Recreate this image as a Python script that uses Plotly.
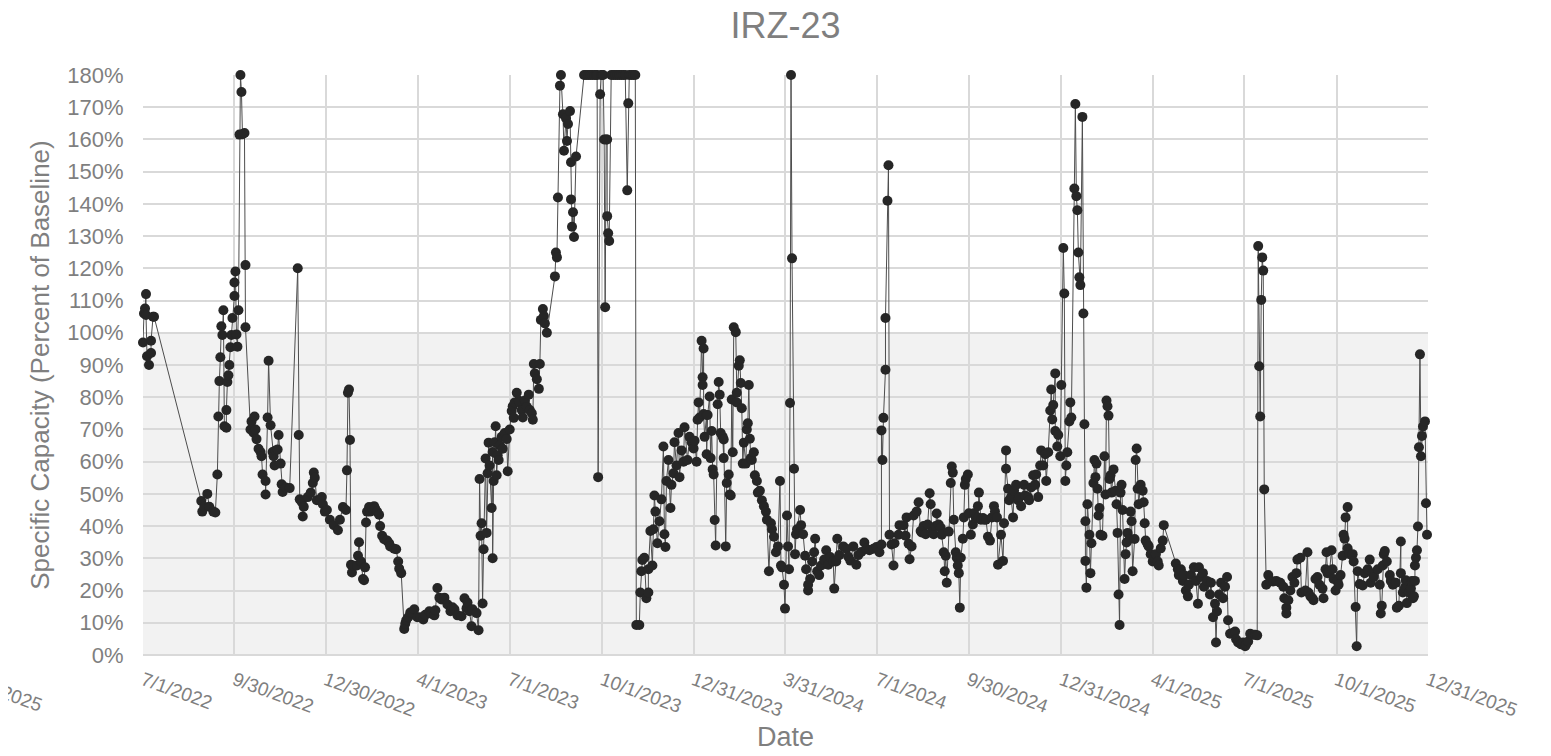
import pandas as pd
import plotly.graph_objects as go

# ---- data ----
# Measurement dates are given as days after the first reading (2022-07-01).
start_date = "2022-07-01"

days_2022 = [0, 1, 2, 3, 3, 4, 6, 8, 8, 10, 11,
             58, 59, 61, 64, 66, 70, 72, 74, 75, 76, 77, 78, 79, 80, 81, 83, 83, 84, 85, 86, 87, 88, 89, 91, 91, 92, 93, 94, 95,
             96, 97, 98, 99, 101, 102, 102, 107, 108, 110, 111, 112, 113, 115, 117, 118, 119, 122, 122, 124, 125, 127, 129, 130,
             131, 132, 134, 135, 137, 138, 139, 142, 146, 154, 155, 156, 158, 159, 160, 164, 167, 169, 170, 171, 173, 176, 178,
             179, 181, 183]
vals_2022 = [97, 106, 107.5, 112, 105.5, 92.7, 90, 93.7, 97.5, 105, 105,
             47.8, 44.5, 46, 50, 46, 44.5, 44.2, 56, 74, 85, 92.4, 102, 99.3, 107, 71, 70.5, 76, 84.7, 86.8, 90, 95.5, 99.3, 104.6, 111.4, 115.6, 119, 99.5, 95.7, 107,
             161.5, 180, 174.7, 161.6, 162, 121, 101.7, 70, 72.5, 69, 74, 70, 67, 64, 63, 61.7, 56, 54, 49.8, 73.7, 91.3, 71.3, 63, 61.7,
             58.8, 63.5, 63.8, 68.3, 59.4, 53, 50.6, 52, 51.8, 120, 68.3, 48.3, 47.5, 43, 46, 49, 50.4, 53.4, 56.6, 55, 48, 48, 49,
             46.8, 44.5, 45]

days_2023 = [186, 190, 194, 196, 199, 202, 203, 204, 205, 206, 207, 208, 209, 213, 214, 215, 217, 219, 220, 221, 222, 223, 225,
             226, 228, 230, 231, 233, 235, 236, 238, 240, 243, 245, 246, 250, 252, 254, 255, 257, 260, 261, 262, 264, 266, 270,
             273, 276, 279, 281, 285, 287, 290, 291, 293, 295, 297, 300, 303, 306, 308, 310, 313, 317, 320, 322, 323, 325, 327,
             328, 332, 334, 335, 336, 337, 338, 339, 341, 342, 343, 344, 345, 347, 348, 348, 349, 350, 351, 352, 353, 354, 355,
             357, 358, 360, 362, 363, 365, 367, 368, 369, 370, 372, 374, 375, 377, 378, 380, 382, 384, 385, 387, 388, 389, 390,
             392, 394, 395, 396, 398, 399, 400, 402, 410, 411, 412, 413, 415, 416, 418, 419, 421, 422, 423, 425, 426, 426, 427,
             428, 429, 431,
             439, 441, 443, 445, 447, 449, 451, 452, 453, 455, 456, 457, 458, 459, 460, 461, 462, 462, 463, 464, 466, 468, 470,
             472, 474, 476, 478, 480, 482, 483, 484, 486, 488, 490, 491, 494, 495, 496, 497, 499, 501, 503, 503, 505, 507, 508,
             509, 510, 512, 514, 516, 518, 519, 520, 521, 523, 525, 526, 528, 529, 531, 533, 534, 536, 538, 539, 542, 544, 546, 548]
vals_2023 = [42, 40.3, 38.7, 42, 45.9, 45, 57.3, 81.4, 82.4, 66.7, 28, 25.6, 27.8, 27.8, 30.8, 35, 29, 23.6, 23.2, 27.2, 41.1, 44.5, 45.9,
             44.5, 45.5, 46.2, 45.5, 44.5, 43.5, 40, 37, 35.9, 35.5, 34.7, 33.7, 33, 32.8, 29, 26.8, 25.4, 8.1, 9.7, 10.8, 11.7, 13.2, 14.2,
             11.7, 11.7, 11, 12.5, 13.6, 12.8, 12.3, 13.9, 20.8, 17.8, 17.2, 17.8, 15.7, 13.6, 14.8, 14.2, 12.3, 12, 17.6, 14.5, 16.3, 13.6, 8.9,
             14.2, 13, 7.7, 54.6, 37, 40.9, 16, 32.8, 61, 37.9, 56.4, 65.9, 58.8, 45.6, 63, 30, 54, 66, 71, 55.8, 62, 60.5, 65,
             67.7, 64, 68.9, 67, 57, 70, 75.7, 77.2, 73.6, 78.4, 81.4, 79, 78.4, 76, 73.7, 79, 77, 80.8, 76, 75, 73, 90.3, 87.4,
             85.6, 82.6, 90.3, 104, 107.4, 105.2, 102.9, 100, 117.5, 124.9, 123.4, 142, 176.7, 180, 167.8, 156.5, 166.6, 159.5, 164.8, 168.8, 152.9, 141.4, 132.9,
             137.4, 129.7, 154.7,
             180, 180, 180, 180, 180, 180, 180, 180, 55.2, 174, 180, 180, 180, 160, 107.9, 160, 160, 136.2, 130.9, 128.5, 180, 180, 180,
             180, 180, 180, 180, 180, 144.2, 171.2, 180, 180, 180, 180, 9.3, 9.3, 19.4, 26, 29.5, 30.2, 17.6, 19.4, 26.6, 38.5, 27.8, 39,
             49.5, 44.5, 34.7, 41.5, 48.3, 64.7, 37.5, 33.5, 54, 60.5, 45.6, 52.8, 56.4, 66, 58.8, 68.9, 55.2, 63.5, 60, 70.7, 60.5, 67.7, 66, 64.1]

days_2024 = [549, 551, 552, 553, 554, 556, 557, 557, 558, 558, 559, 561, 561, 562, 564, 565, 566, 567, 568, 569, 570, 572, 573,
             574, 575, 577, 578, 578, 580, 581, 583, 584, 585, 586, 587, 588, 590, 591, 591, 593, 594, 595, 596, 597, 598, 600,
             601, 602, 603, 604, 605, 606, 608, 609, 611, 612, 614, 616, 618, 620, 621, 623, 625, 626, 628, 630, 632, 634, 635,
             636, 638, 639, 641, 642, 643, 644, 645, 646, 648, 649, 650, 651, 654, 655, 657, 659, 660, 662, 662, 664, 666, 668,
             669, 671, 673, 675, 678, 680, 682, 684, 687, 688, 690, 691, 693, 697, 700, 702, 704, 707, 710, 712, 715, 718, 720,
             723, 727, 730, 733, 735, 735, 736, 737, 739, 739, 741, 742, 743, 745, 747, 748, 752, 753, 757, 759, 760, 762, 763,
             765, 767, 770, 772, 774, 775, 777, 779, 781, 783, 784, 785, 787, 789, 790, 792, 794, 795, 797, 798, 799, 800, 802,
             804, 805, 806, 807, 809, 810, 811, 812, 813, 814, 816, 817, 818, 819, 821, 822, 824, 826, 827, 829, 831, 831, 832,
             834, 836, 837, 839, 841, 843, 845, 847, 848, 850, 851, 854, 856, 857, 859, 859, 861, 862, 864, 866, 867, 869, 871,
             872, 874, 877, 878, 881, 882, 884, 886, 888, 889, 891, 893, 894, 896, 898, 899, 901, 903, 904, 905, 906, 908, 908,
             910, 911, 913, 914]
vals_2024 = [66.5, 60, 73, 78.4, 73.7, 97.5, 86.2, 83.8, 95.1, 74.8, 67.7, 74.5, 62.3, 74.5, 80.2, 61.1, 69.5, 57.6, 56, 41.9, 34, 77.8, 84.7,
             80.8, 68.9, 67.7, 61.1, 66.9, 33.7, 53.4, 56, 49.8, 49.5, 79.3, 62.9, 101.7, 100.2, 81.4, 78.4, 89.8, 91.5, 84.4, 76.6, 59.4, 65.9, 59.4,
             70, 71.9, 83.8, 67.1, 61.1, 60.5, 62.9, 55.8, 54, 50.4, 51, 48, 46.2, 44.5, 42, 26, 40.9, 39, 36.7, 31.9, 33.7, 54, 27.8,
             27.2, 21.8, 14.4, 43.3, 33.7, 26.6, 78.2, 180, 123.1, 57.8, 31.3, 37.5, 39, 45, 40.3, 37.5, 30.8, 26.6, 20, 21.8, 23.6, 29, 31.9,
             36.1, 26, 24.8, 27.8, 29.6, 32.5, 28, 30.4, 29, 20.6, 29, 36.1, 31, 33.7, 33, 30.5, 29.3, 33.7, 28, 31, 32, 34.9, 33,
             32.5, 33, 33.5, 31.9, 34.3, 69.7, 60.5, 73.6, 88.5, 104.6, 141, 152, 37.3, 34.3, 27.8, 34.7, 37.3, 40.3, 40.3, 37, 42.7, 34.5, 29.7,
             33.7, 43.3, 44.5, 47.4, 38.5, 38, 40, 37.5, 40.5, 50.2, 46.8, 38, 37.5, 40, 43.9, 40.5, 39.5, 37.3, 31.9, 26, 30.8, 22.4, 38.3,
             53.4, 58.5, 56.6, 42, 31.9, 30.2, 27.8, 25.4, 14.7, 30.2, 36.1, 42.7, 52.8, 54.6, 56, 44, 37.3, 40.5, 44, 42.5, 46.2, 42.7, 50.4,
             42, 42.5, 42, 42, 36.7, 35.5, 42.7, 46.2, 44.5, 42.7, 28, 37.3, 29.2, 40.9, 63.5, 57.8, 51.6, 48, 49, 42.7, 51, 52.8, 48,
             49, 46.2, 52.8, 49.5, 49, 48, 52, 55.8, 52.8, 56, 49, 58.8, 63.5, 58.8, 62.3, 54, 62.9, 75.9, 82.4, 73.1, 77.6, 87.4, 69.5,
             64.7, 68.3, 61.7, 83.8]

days_2025 = [916, 917, 918, 919, 920, 922, 923, 924, 927, 928, 929, 930, 931, 932, 933, 935, 936, 937, 938, 938, 939, 940, 942,
             943, 944, 946, 947, 948, 949, 950, 951, 952, 953, 955, 957, 958, 959, 960, 961, 962, 963, 964, 966, 968, 969, 970,
             971, 972, 973, 974, 975, 977, 978, 979, 980, 982, 983, 984, 985, 987, 988, 989, 990, 991, 993, 995, 996, 997, 998,
             1000, 1001, 1003, 1005, 1006, 1008, 1010, 1011, 1013, 1015, 1016, 1028, 1030, 1031, 1033, 1035, 1036, 1038, 1040,
             1041, 1043, 1046, 1048, 1050, 1051, 1053, 1055, 1056, 1059, 1062, 1063, 1065, 1067, 1068, 1069, 1071, 1073, 1075,
             1077, 1079, 1080, 1082, 1085, 1087, 1088, 1090, 1093, 1095, 1097, 1098, 1100, 1102, 1105, 1107, 1109, 1110, 1111,
             1112, 1113, 1114, 1115, 1116, 1118, 1120, 1122, 1125, 1128, 1132, 1135, 1136, 1138, 1138, 1140, 1142, 1144, 1146,
             1148, 1149, 1152, 1153, 1157, 1159, 1160, 1162, 1164, 1165, 1167, 1169, 1171, 1174, 1175, 1177, 1178, 1179, 1181,
             1183, 1184, 1185, 1187, 1189, 1190, 1192, 1194, 1195, 1196, 1197, 1199, 1199, 1201, 1204, 1205, 1207, 1208, 1209,
             1211, 1214, 1216, 1219, 1221, 1222, 1224, 1225, 1229, 1231, 1232, 1233, 1234, 1235, 1236, 1238, 1241, 1242, 1244,
             1247, 1248, 1250, 1252, 1252, 1254, 1256, 1257, 1258, 1260, 1262, 1263, 1264, 1265, 1266, 1266, 1267, 1268, 1269,
             1270, 1271, 1272, 1273, 1274, 1276, 1277, 1278]
vals_2025 = [126.3, 112.2, 54, 58.8, 62.9, 72.5, 78.4, 73.7, 144.8, 171, 142.4, 138, 124.9, 117.2, 114.8, 167, 106, 71.6, 41.5, 29.2, 20.9, 46.8, 37.3,
             25.4, 34.7, 53.4, 60.5, 55.2, 59.4, 51.6, 43.3, 45.6, 37.3, 37, 61.7, 49.8, 79, 77.2, 74.3, 54.6, 55.8, 50.4, 57.6, 51, 46.8, 37.9,
             18.8, 9.3, 50.4, 52.8, 45, 23.6, 31.3, 34.9, 37.9, 36, 44.5, 41.5, 26, 36, 60.5, 64.1, 51.6, 46.8, 52.8, 51, 47.4, 40.9, 35.5,
             34.3, 33.7, 31.3, 29, 30.2, 31.3, 29, 27.8, 33.1, 35.5, 40.3, 28.4, 26.6, 24.8, 26.6, 23, 24.8, 20, 18.2,
             21.8, 24.8, 27.2, 23, 15.9, 27.2, 24.2, 25.4, 21.2, 23, 18.8, 22.4, 11.7, 15.9, 3.9, 13.5, 18.8, 22.4, 17.6,
             21.2, 24.2, 10.8, 6.6, 6.9, 7.3, 4.9, 3.9, 3.3, 3.9, 2.7, 3.3, 4.2, 6.6, 6.3, 6.3, 6.1, 126.9, 89.6,
             74, 110.2, 123.4, 119.3, 51.4, 21.8, 24.8, 23, 22.8, 23, 22.4, 21.2, 17.6, 14.7, 12.9, 17, 20, 24.2, 22.4,
             25.4, 29.6, 30.2, 19.4, 20, 31.9, 19.4, 18.2, 17.6, 17, 23.6, 24.2, 21.8, 20.6, 17.6, 26.6, 31.9, 25.4, 26,
             32.5, 26.6, 23.6, 20, 23, 21.8, 24.8, 30.8, 37.3, 36.1, 42.7, 45.9, 33.1, 31.3, 31.3, 29, 14.9, 2.7, 26,
             22, 21.6, 25.4, 26.6, 29.6, 22.4, 25.4, 24.2, 26.6, 21.8, 12.9, 15.3, 27.8, 31.3, 32.3, 29, 24.8, 23, 21.8,
             22.4, 14.7, 15.3, 35.2, 25.4, 19.4, 20.9, 23.2, 16.1, 19.4, 20.6, 23, 17.6, 18.2, 23, 27.8, 30.2, 32.5, 39.9,
             64.5, 93.3, 61.7, 68, 70.9, 72.5, 47.1, 37.3]

tick_dates = ["2022-07-01", "2022-09-30", "2022-12-30", "2023-04-01", "2023-07-01", "2023-10-01", "2023-12-31",
              "2024-03-31", "2024-07-01", "2024-09-30", "2024-12-31", "2025-04-01", "2025-07-01", "2025-10-01", "2025-12-31"]
tick_labels = ["7/1/2022", "9/30/2022", "12/30/2022", "4/1/2023", "7/1/2023", "10/1/2023", "12/31/2023",
               "3/31/2024", "7/1/2024", "9/30/2024", "12/31/2024", "4/1/2025", "7/1/2025", "10/1/2025", "12/31/2025"]
y_ticks = list(range(0, 181, 10))
y_tick_labels = [f"{v}%" for v in y_ticks]
baseline_pct = 100

# ---- build ----
all_days = days_2022 + days_2023 + days_2024 + days_2025
all_vals = vals_2022 + vals_2023 + vals_2024 + vals_2025
dates = pd.Timestamp(start_date) + pd.to_timedelta(all_days, unit="D")

GRAY = "#7f7f7f"
GRID = "#d9d9d9"
FONT = "Liberation Sans, Arial, sans-serif"

# the page has an 8 px body margin, so the figure is 8 px smaller and its margins 8 px tighter
W, H = 1543, 748

fig = go.Figure()
fig.add_trace(go.Scatter(
    x=dates, y=all_vals, mode="lines+markers",
    line=dict(color="#4d4d4d", width=1),
    marker=dict(color="#262626", size=10),
    cliponaxis=False, showlegend=False,
))

# shaded band 0-100 %
fig.add_shape(type="rect", xref="paper", yref="y", x0=0, x1=1, y0=0, y1=baseline_pct,
              fillcolor="#f2f2f2", line=dict(width=0), layer="below")

fig.update_layout(
    width=W, height=H,
    margin=dict(l=135, r=123, t=67, b=101, autoexpand=False),
    paper_bgcolor="white", plot_bgcolor="white",
    font=dict(family=FONT, color=GRAY),
    title=dict(text="IRZ-23", x=0.5, xref="paper", xanchor="center", y=1 - 17 / H, yanchor="middle",
               font=dict(size=36, color=GRAY, family=FONT)),
    xaxis=dict(
        type="date", range=["2022-07-01", "2025-12-31"],
        tickmode="array", tickvals=tick_dates, ticktext=tick_labels, tickangle=20,
        tickfont=dict(size=19, color=GRAY), ticks="outside", ticklen=6, tickcolor="rgba(0,0,0,0)",
        showgrid=True, gridcolor=GRID, gridwidth=1.5, showline=False, zeroline=False,
        title=dict(text="Date", font=dict(size=27, color=GRAY), standoff=7),
    ),
    yaxis=dict(
        range=[0, 180], tickmode="array", tickvals=y_ticks, ticktext=y_tick_labels,
        tickfont=dict(size=22, color=GRAY), ticks="outside", ticklen=14, tickcolor="rgba(0,0,0,0)",
        showgrid=True, gridcolor=GRID, gridwidth=1.5, zeroline=True, zerolinecolor=GRID, zerolinewidth=1.5,
        showline=False,
        title=dict(text="Specific Capacity (Percent of Baseline)", font=dict(size=26, color=GRAY), standoff=10),
    ),
)

# stray, partly cut-off date label at the lower left edge of the picture
fig.add_annotation(xref="paper", yref="paper", x=-0.114, y=-0.060, text="12/31/2025",
                   textangle=20, showarrow=False, xanchor="center", yanchor="middle",
                   font=dict(size=19, color=GRAY, family=FONT))

fig.write_html("out.html")
